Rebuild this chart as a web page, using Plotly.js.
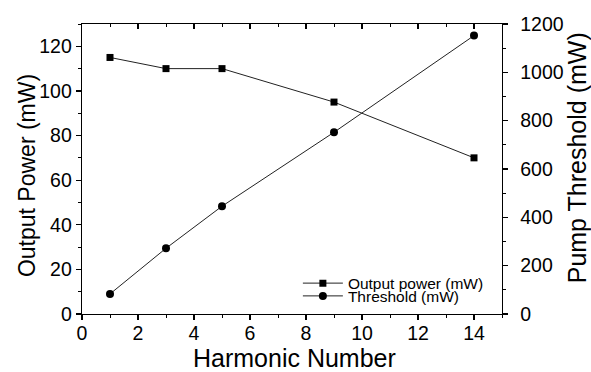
<!DOCTYPE html>
<html>
<head>
<meta charset="utf-8">
<script src="https://cdn.plot.ly/plotly-3.0.1.min.js"></script>
<style>html,body{margin:0;padding:0;background:#fff;}#chart{width:591px;height:372px;}</style>
</head>
<body>
<div id="chart"></div>
<script>
const harmonic = [1, 3, 5, 9, 14];
const outputPower = [115, 110, 110, 95, 70];
const threshold = [83, 272, 446, 752, 1152];

const FONT = 'Liberation Sans, Arial, sans-serif';

const traces = [
  {
    x: harmonic, y: outputPower, name: 'Output power (mW)',
    type: 'scatter', mode: 'lines+markers',
    line: {color: '#222', width: 1},
    marker: {symbol: 'square', size: 7, color: '#000'},
    xaxis: 'x', yaxis: 'y', legend: 'legend'
  },
  {
    x: harmonic, y: threshold, name: 'Threshold (mW)',
    type: 'scatter', mode: 'lines+markers',
    line: {color: '#222', width: 1},
    marker: {symbol: 'circle', size: 8, color: '#000'},
    xaxis: 'x', yaxis: 'y2', legend: 'legend2'
  },
  {
    x: [0], y: [0], xaxis: 'x2', yaxis: 'y', showlegend: false,
    mode: 'markers', marker: {opacity: 0}, hoverinfo: 'skip'
  }
];

const legendBase = {
  xanchor: 'left', yanchor: 'middle',
  bgcolor: 'rgba(0,0,0,0)', borderwidth: 0,
  font: {family: FONT, size: 15.5, color: '#000'},
  itemwidth: 40
};

const layout = {
  width: 591, height: 372,
  margin: {l: 82, r: 89, t: 24, b: 58},
  paper_bgcolor: '#fff', plot_bgcolor: '#fff',
  font: {family: FONT, color: '#000', size: 19.5},
  showlegend: true,
  legend: Object.assign({x: 0.514, y: 0.105}, legendBase),
  legend2: Object.assign({x: 0.514, y: 0.061}, legendBase),
  xaxis: {
    range: [0, 15], dtick: 2, tick0: 0,
    showgrid: false, zeroline: false,
    showline: true, linecolor: '#000', linewidth: 1.3,
    ticks: 'outside', ticklen: 5, tickwidth: 1.2, tickcolor: '#000',
    minor: {dtick: 1, ticks: 'outside', ticklen: 3, tickwidth: 1, tickcolor: '#000', showgrid: false},
    tickfont: {family: FONT, size: 19.5, color: '#000'},
    ticklabelstandoff: -4
  },
  xaxis2: {
    overlaying: 'x', side: 'top', range: [0, 15], dtick: 2, tick0: 0,
    showgrid: false, zeroline: false, showticklabels: false,
    showline: true, linecolor: '#000', linewidth: 1.3,
    ticks: 'inside', ticklen: 5, tickwidth: 1.2, tickcolor: '#000',
    minor: {dtick: 1, ticks: 'inside', ticklen: 3, tickwidth: 1, tickcolor: '#000', showgrid: false}
  },
  yaxis: {
    range: [0, 130], dtick: 20, tick0: 0,
    showgrid: false, zeroline: false,
    showline: true, linecolor: '#000', linewidth: 1.3,
    ticks: 'outside', ticklen: 5, tickwidth: 1.2, tickcolor: '#000',
    minor: {dtick: 10, ticks: 'outside', ticklen: 3, tickwidth: 1, tickcolor: '#000', showgrid: false},
    tickfont: {family: FONT, size: 19.5, color: '#000'}
  },
  yaxis2: {
    overlaying: 'y', side: 'right', range: [0, 1200], dtick: 200, tick0: 0,
    showgrid: false, zeroline: false,
    showline: true, linecolor: '#000', linewidth: 1.3,
    ticks: 'outside', ticklen: 5, tickwidth: 1.2, tickcolor: '#000',
    minor: {dtick: 100, ticks: 'outside', ticklen: 3, tickwidth: 1, tickcolor: '#000', showgrid: false},
    tickfont: {family: FONT, size: 19.5, color: '#000'},
    ticklabelstandoff: 8
  },
  annotations: [
    {text: 'Harmonic Number', xref: 'paper', yref: 'paper', x: 0.507, y: -0.153,
     xanchor: 'center', yanchor: 'middle', showarrow: false, font: {family: FONT, size: 25, color: '#000'}},
    {text: 'Output Power (mW)', xref: 'paper', yref: 'paper', x: -0.131, y: 0.479, textangle: -90,
     xanchor: 'center', yanchor: 'middle', showarrow: false, font: {family: FONT, size: 23, color: '#000'}},
    {text: 'Pump Threshold (mW)', xref: 'paper', yref: 'paper', x: 1.1786, y: 0.537, textangle: -90,
     xanchor: 'center', yanchor: 'middle', showarrow: false, font: {family: FONT, size: 25, color: '#000'}}
  ]
};

Plotly.newPlot('chart', traces, layout, {displayModeBar: false, staticPlot: true});
</script>
</body>
</html>
